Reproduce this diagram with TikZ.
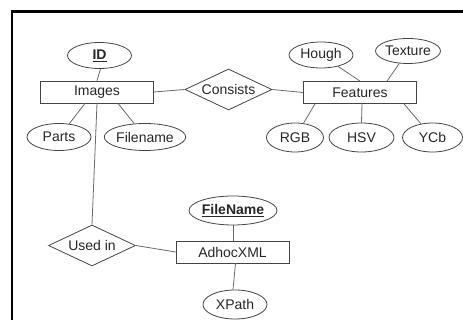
\documentclass[tikz,border=0pt]{standalone}
\usepackage{fontspec}
\setmainfont{Liberation Sans}
\usetikzlibrary{shapes.geometric,calc}
\definecolor{edge}{HTML}{444444}
\definecolor{conn}{HTML}{6A6A6A}
\begin{document}
\begin{tikzpicture}[x=1pt,y=-1pt,
  every node/.style={font=\fontsize{14}{16}\selectfont, text=black!85, inner sep=0pt},
  entity/.style={draw=edge, line width=0.8pt, rectangle, minimum width=113pt, minimum height=22pt},
  attr/.style={draw=edge, line width=0.8pt, ellipse, minimum width=64pt, minimum height=26pt},
  rel/.style={draw=edge, line width=0.8pt, diamond, aspect=2.1, minimum width=87pt, minimum height=41pt},
  conn/.style={draw=conn, line width=0.8pt},
  frameline/.style={line width=2.6pt, black}]
\useasboundingbox (0,0) rectangle (463,320);
\coordinate (ftl) at (12,11.3);
\coordinate (ftr) at (463,11.3);
\coordinate (fbl) at (12,320);
\draw[frameline] (ftr) -- (ftl) -- (fbl);

\node[entity] (images) at (97,92) {Images};
\node[entity] (features) at (360,92.5) {Features};
\node[entity] (adhoc) at (232.5,252) {AdhocXML};

\node[attr] (id) at (99.5,55.5) {\underline{\textbf{ID}}};
\node[attr, minimum height=27pt] (parts) at (59,137) {Parts};
\node[attr, minimum width=74pt, minimum height=27pt] (filename) at (145,137) {Filename};
\node[attr] (hough) at (321,55) {Hough};
\node[attr, minimum height=25pt] (texture) at (408,51) {Texture};
\node[attr, minimum width=57pt, minimum height=29pt] (rgb) at (295,137.5) {RGB};
\node[attr, minimum width=65pt, minimum height=29pt] (hsv) at (361.5,137.5) {HSV};
\node[attr, minimum width=60pt, minimum height=29pt] (ycb) at (432.5,137.5) {YCb};
\node[attr, minimum width=86pt, minimum height=29pt] (fname) at (233,210.5) {\underline{\textbf{FileName}}};
\node[attr, minimum width=64pt, minimum height=29pt] (xpath) at (235,304.5) {XPath};

\node[rel] (consists) at (228.5,89.5) {Consists};
\node[rel] (usedin) at (92,245.5) {Used in};

\draw[conn] ([xshift=1pt]id.south) -- ([xshift=0pt]images.north);
\draw[conn] (images.east) -- (consists.west);
\draw[conn] (consists.east) -- (features.west);
\draw[conn] ([xshift=-12pt]images.south) -- (parts);
\draw[conn] ([xshift=21pt]images.south) -- (filename);
\draw[conn] (images.south) -- (usedin.north);
\draw[conn] (hough) -- (features.north);
\draw[conn] ([xshift=27pt]features.north) -- (texture);
\draw[conn] ([xshift=-45pt]features.south) -- (rgb);
\draw[conn] ([xshift=2pt]features.south) -- (hsv.north);
\draw[conn] ([xshift=44pt]features.south) -- (ycb);
\draw[conn] (usedin.east) -- (adhoc.west);
\draw[conn] (fname.south) -- (fname.south |- adhoc.north);
\draw[conn] ([xshift=3pt]adhoc.south) -- ([xshift=-2pt]xpath.north);
\end{tikzpicture}
\end{document}
